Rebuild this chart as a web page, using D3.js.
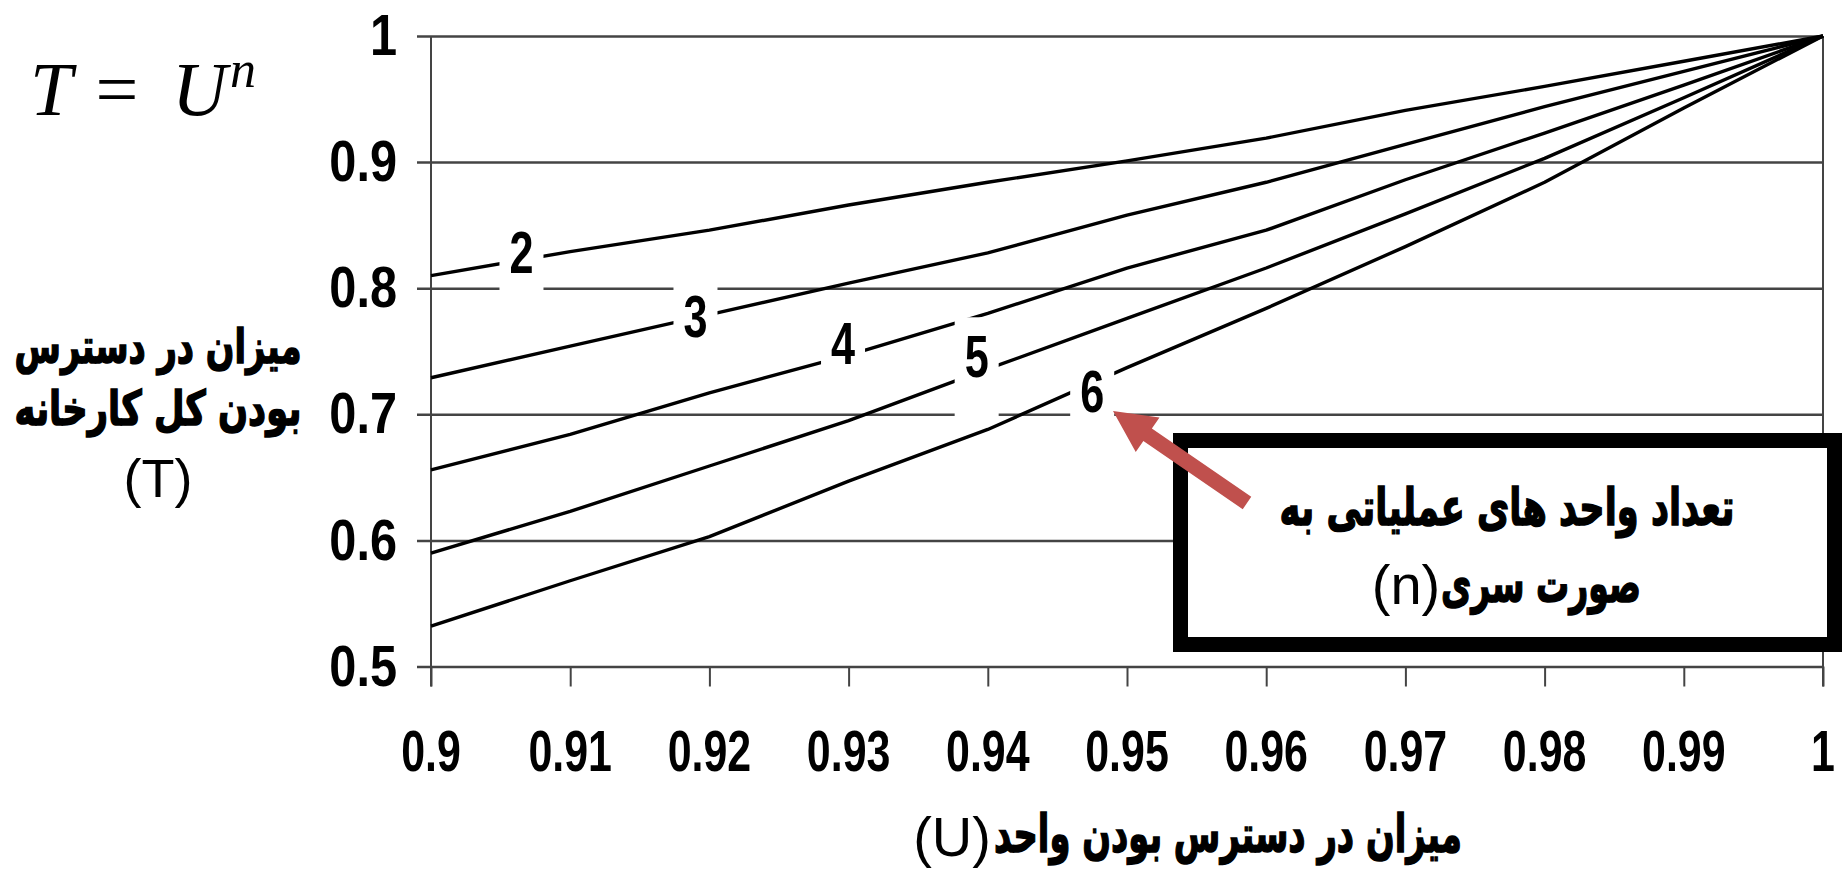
<!DOCTYPE html>
<html>
<head>
<meta charset="utf-8">
<script src="https://cdn.jsdelivr.net/npm/d3@7/dist/d3.min.js"></script>
<style>
  body { margin: 0; background: #fff; }
  svg { display: block; }
  .num { font-family: "Liberation Sans", Arial, sans-serif; font-weight: bold; fill: #000; }
  .fa { font-family: "DejaVu Sans", sans-serif; font-weight: bold; fill: #000; stroke: #000; stroke-width: 1.6; }
  .plain { font-family: "Liberation Sans", Arial, sans-serif; fill: #000; }
  .math { font-family: "Liberation Serif", "DejaVu Serif", serif; font-style: italic; fill: #000; }
</style>
</head>
<body>
<script>
// unit availability (U) on the x axis
const availabilityU = [0.90, 0.91, 0.92, 0.93, 0.94, 0.95, 0.96, 0.97, 0.98, 0.99, 1.00];

// number of units in series (n) and plant availability (T)
const unitCounts = [2, 3, 4, 5, 6];
const plantT_n2 = [0.810, 0.829, 0.846, 0.866, 0.884, 0.901, 0.919, 0.941, 0.960, 0.980, 1.000];
const plantT_n3 = [0.729, 0.754, 0.779, 0.804, 0.828, 0.858, 0.884, 0.914, 0.944, 0.972, 1.000];
const plantT_n4 = [0.656, 0.684, 0.717, 0.747, 0.780, 0.816, 0.846, 0.886, 0.923, 0.961, 1.000];
const plantT_n5 = [0.590, 0.623, 0.659, 0.695, 0.736, 0.776, 0.816, 0.859, 0.903, 0.951, 1.000];
const plantT_n6 = [0.532, 0.568, 0.603, 0.647, 0.688, 0.737, 0.784, 0.833, 0.884, 0.943, 1.000];

// where the n labels sit on each curve
const labelU = [0.9065, 0.9190, 0.9296, 0.9392, 0.9475];
const labelT = [0.8290, 0.7786, 0.7570, 0.7468, 0.7190];

// ticks
const xTickValues = [0.90, 0.91, 0.92, 0.93, 0.94, 0.95, 0.96, 0.97, 0.98, 0.99, 1.00];
const xTickLabels = ["0.9", "0.91", "0.92", "0.93", "0.94", "0.95", "0.96", "0.97", "0.98", "0.99", "1"];
const yTickValues = [1.0, 0.9, 0.8, 0.7, 0.6, 0.5];
const yTickLabels = ["1", "0.9", "0.8", "0.7", "0.6", "0.5"];

const width = 1848, height = 873;
const plot = { left: 431, right: 1823, top: 36, bottom: 666.5 };

const svg = d3.select("body").append("svg")
    .attr("width", width)
    .attr("height", height);

svg.append("rect").attr("width", width).attr("height", height).attr("fill", "#fff");

const x = d3.scaleLinear().domain([0.9, 1.0]).range([plot.left, plot.right]);
const y = d3.scaleLinear().domain([0.5, 1.0]).range([plot.bottom, plot.top]);

const gridColor = "#444";

// horizontal gridlines (ticks stick out left of the axis)
svg.append("g")
    .attr("transform", `translate(${plot.right},0)`)
    .call(d3.axisLeft(y).tickValues(yTickValues).tickSize(plot.right - plot.left + 14).tickFormat(""))
    .call(g => g.select(".domain").remove())
    .call(g => g.selectAll("line").attr("stroke", gridColor).attr("stroke-width", 2.5));

// x axis ticks below the 0.5 line
svg.append("g")
    .attr("transform", `translate(0,${plot.bottom})`)
    .call(d3.axisBottom(x).tickValues(xTickValues).tickSize(20).tickFormat(""))
    .call(g => g.select(".domain").remove())
    .call(g => g.selectAll("line").attr("stroke", gridColor).attr("stroke-width", 2));

// left axis line and right border
svg.append("line")
    .attr("x1", x(0.9)).attr("x2", x(0.9))
    .attr("y1", y(1)).attr("y2", plot.bottom + 20)
    .attr("stroke", gridColor).attr("stroke-width", 2);
svg.append("line")
    .attr("x1", x(1)).attr("x2", x(1))
    .attr("y1", y(1)).attr("y2", plot.bottom + 20)
    .attr("stroke", gridColor).attr("stroke-width", 2);

// curves
const allSeries = [plantT_n2, plantT_n3, plantT_n4, plantT_n5, plantT_n6];
const line = d3.line()
    .x((d, i) => x(availabilityU[i]))
    .y(d => y(d));

svg.append("g").selectAll("path")
    .data(allSeries)
    .join("path")
    .attr("d", line)
    .attr("fill", "none")
    .attr("stroke", "#000")
    .attr("stroke-width", 3.4)
    .attr("stroke-linejoin", "round");

// n labels with a white backing that breaks the lines
const labels = svg.append("g");
unitCounts.forEach((n, i) => {
    const cx = x(labelU[i]), cy = y(labelT[i]);
    labels.append("rect")
        .attr("x", cx - 22).attr("y", cy - 38)
        .attr("width", 44).attr("height", 104)
        .attr("fill", "#fff");
    labels.append("text")
        .attr("class", "num")
        .attr("transform", `translate(${cx},${cy}) scale(0.72,1)`)
        .attr("text-anchor", "middle")
        .attr("dy", "0.36em")
        .attr("font-size", 60)
        .text(n);
});

// tick labels
svg.append("g").selectAll("text")
    .data(yTickValues)
    .join("text")
    .attr("class", "num")
    .attr("transform", d => `translate(397,${y(d)}) scale(0.84,1)`)
    .attr("text-anchor", "end")
    .attr("dy", "0.33em")
    .attr("font-size", 58)
    .text((d, i) => yTickLabels[i]);

svg.append("g").selectAll("text")
    .data(xTickValues)
    .join("text")
    .attr("class", "num")
    .attr("transform", d => `translate(${x(d)},771) scale(0.74,1)`)
    .attr("text-anchor", "middle")
    .attr("font-size", 58)
    .text((d, i) => xTickLabels[i]);

// fit a text horizontally to a target width
function fitText(sel, cx, cy, w) {
    const natural = sel.node().getComputedTextLength();
    sel.attr("transform", `translate(${cx},${cy}) scale(${w / natural},1)`);
}

function faText(str, size) {
    return svg.append("text").attr("class", "fa").attr("direction", "rtl")
        .attr("text-anchor", "middle").attr("dy", "0.35em").attr("font-size", size)
        .text(str);
}

// y axis title
fitText(faText("میزان در دسترس", 48), 158, 346, 287);
fitText(faText("بودن کل کارخانه", 48), 158, 408, 287);
svg.append("text").attr("class", "plain")
    .attr("x", 158).attr("y", 478).attr("dy", "0.35em")
    .attr("text-anchor", "middle").attr("font-size", 54)
    .text("(T)");

// x axis title
fitText(faText("میزان در دسترس بودن واحد", 52), 1228, 834, 468);
svg.append("text").attr("class", "plain")
    .attr("x", 952).attr("y", 836).attr("dy", "0.35em")
    .attr("text-anchor", "middle").attr("font-size", 56)
    .text("(U)");

// formula
const formula = svg.append("g").attr("class", "math");
formula.append("text").attr("x", 30).attr("y", 115).attr("font-size", 76).text("T");
formula.append("text").attr("x", 117).attr("y", 115).attr("font-size", 76)
    .attr("text-anchor", "middle").attr("font-style", "normal").text("=");
formula.append("text").attr("x", 172).attr("y", 115).attr("font-size", 76).text("U");
formula.append("text").attr("x", 230).attr("y", 87).attr("font-size", 52).text("n");

// annotation box
svg.append("rect")
    .attr("x", 1180.5).attr("y", 440.5)
    .attr("width", 654).attr("height", 204)
    .attr("fill", "#fff").attr("stroke", "#000").attr("stroke-width", 15);

fitText(faText("تعداد واحد های عملیاتی به", 52), 1507, 507, 455);
fitText(faText("صورت سری", 52), 1541, 584, 200);
svg.append("text").attr("class", "plain")
    .attr("x", 1406).attr("y", 584).attr("dy", "0.35em")
    .attr("text-anchor", "middle").attr("font-size", 56)
    .text("(n)");

// arrow pointing at the n = 6 label
const tip = [1113, 411], tail = [1247, 503];
const len = Math.hypot(tail[0] - tip[0], tail[1] - tip[1]);
const ux = (tail[0] - tip[0]) / len, uy = (tail[1] - tip[1]) / len;
const px = -uy, py = ux;
const headLen = 42, headW = 21, shaftW = 7.5;
const at = (a, b) => [tip[0] + ux * a + px * b, tip[1] + uy * a + py * b];
const arrowPts = [
    at(0, 0), at(headLen, headW), at(headLen, shaftW), at(len, shaftW),
    at(len, -shaftW), at(headLen, -shaftW), at(headLen, -headW)
];
svg.append("polygon")
    .attr("points", arrowPts.map(p => p.join(",")).join(" "))
    .attr("fill", "#C0504D");
</script>
</body>
</html>
